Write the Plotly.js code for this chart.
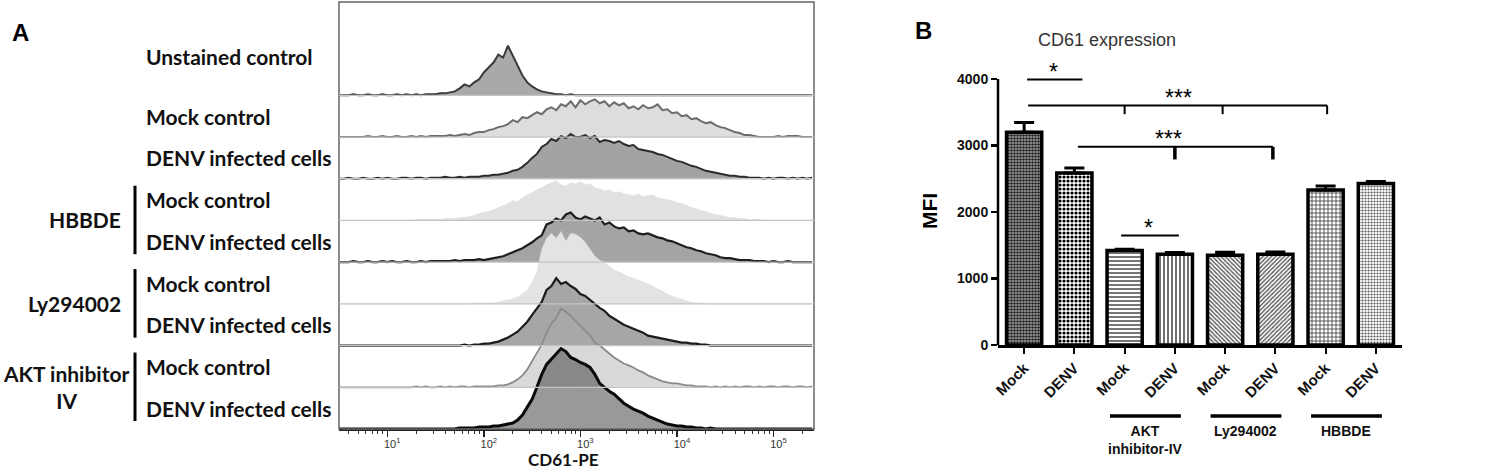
<!DOCTYPE html>
<html>
<head>
<meta charset="utf-8">
<script src="https://cdn.plot.ly/plotly-3.0.1.min.js"></script>
<style>
  html, body { margin: 0; padding: 0; background: #fff; }
  #chart { width: 1502px; height: 470px; }
</style>
</head>
<body>
<div id="chart"></div>
<script>
// ---- panel A : CD61-PE histograms (log10 bin centres, counts) ----
const bins = [
  0.50,0.55,0.60,0.65,0.70,0.75,0.80,0.85,0.90,0.95,
  1.00,1.05,1.10,1.15,1.20,1.25,1.30,1.35,1.40,1.45,
  1.50,1.55,1.60,1.65,1.70,1.75,1.80,1.85,1.90,1.95,
  2.00,2.05,2.10,2.15,2.20,2.25,2.30,2.35,2.40,2.45,
  2.50,2.55,2.60,2.65,2.70,2.75,2.80,2.85,2.90,2.95,
  3.00,3.05,3.10,3.15,3.20,3.25,3.30,3.35,3.40,3.45,
  3.50,3.55,3.60,3.65,3.70,3.75,3.80,3.85,3.90,3.95,
  4.00,4.05,4.10,4.15,4.20,4.25,4.30,4.35,4.40,4.45,
  4.50,4.55,4.60,4.65,4.70,4.75,4.80,4.85,4.90,4.95,
  5.00,5.05,5.10,5.15,5.20,5.25,5.30,5.35,5.40
];

const unstained = [
  0,0,0,1,0,0,1,0,0,1,
  0,0,1,0,1,0,1,0,1,1,
  1,2,2,3,4,7,11,9,13,16,
  23,28,33,41,38,50,40,30,20,13,
  9,6,4,3,2,1,1,0,1,0,
  0,0,0,0,0,0,0,0,0,0,
  0,0,0,0,0,0,0,0,0,0,
  0,0,0,0,0,0,0,0,0,0,
  0,0,0,0,0,0,0,0,0,0,
  0,0,0,0,0,0,0,0,0
];
const mockCtrl = [
  0,0,0,0,0,0,1,0,0,1,
  0,0,1,0,0,1,0,1,0,1,
  1,1,1,2,1,2,3,2,4,5,
  5,7,8,10,11,13,17,15,20,19,
  22,25,23,28,30,27,33,31,36,30,
  37,33,36,38,34,36,31,35,32,34,
  29,31,28,32,29,30,33,27,28,24,
  25,21,22,18,19,16,14,15,12,10,
  9,7,5,4,2,2,1,0,0,0,
  0,1,0,1,1,1,0,0,0
];
const denvCtrl = [
  0,0,1,0,0,1,0,0,1,0,
  1,0,0,1,1,0,1,1,0,1,
  1,1,2,1,1,2,1,2,2,2,
  3,3,4,4,5,6,8,9,12,16,
  21,25,32,35,40,38,43,41,45,42,
  42,44,41,43,37,39,38,36,38,35,
  33,34,30,29,28,27,25,24,22,20,
  18,17,15,13,12,10,8,7,6,5,
  4,3,3,2,2,1,1,1,0,1,
  0,1,1,0,1,0,1,0,1
];
const hbbdeMock = [
  0,0,0,0,0,0,0,0,0,0,
  0,0,0,0,0,0,1,1,1,1,
  1,1,2,2,2,3,3,4,5,7,
  8,9,11,13,15,17,20,19,23,26,
  28,31,33,36,38,40,36,35,38,37,
  39,36,37,33,32,30,31,28,29,27,
  26,25,27,24,25,26,23,22,21,20,
  18,17,15,13,12,10,9,7,6,5,
  4,3,3,2,2,1,1,1,0,0,
  0,0,0,0,0,0,0,0,0
];
const hbbdeDenv = [
  0,0,0,1,0,0,1,0,0,1,
  0,1,0,0,1,0,0,1,0,1,
  1,1,1,1,2,1,2,2,2,3,
  2,3,4,5,6,8,10,12,14,17,
  20,24,27,38,40,44,42,48,50,45,
  43,46,44,42,45,38,40,36,34,35,
  31,32,29,28,29,27,25,24,22,21,
  19,17,15,14,12,11,9,8,7,5,
  4,4,3,2,2,2,1,1,1,0,
  1,0,0,1,0,0,0,0,0
];
const lyMock = [
  0,0,0,0,0,0,0,0,0,0,
  0,0,0,0,0,0,0,0,0,0,
  0,0,0,0,0,0,0,0,1,1,
  1,1,1,2,3,4,5,7,10,14,
  22,32,55,66,71,66,73,63,71,70,
  67,62,55,48,44,42,38,34,32,30,
  27,26,24,22,20,18,15,13,10,8,
  6,5,3,2,1,1,0,0,0,0,
  0,0,0,0,0,0,0,0,0,0,
  0,0,0,0,0,0,0,0,0
];
const lyDenv = [
  0,0,0,0,0,0,0,0,0,0,
  0,0,0,0,0,0,0,0,0,0,
  0,0,0,0,0,0,1,0,1,1,
  2,2,3,4,6,8,11,14,19,24,
  31,38,44,56,60,68,62,64,60,57,
  52,50,46,42,38,35,30,27,24,21,
  19,17,15,13,10,9,8,7,6,5,
  4,3,3,2,2,1,1,0,0,0,
  0,0,0,0,0,0,0,0,0,0,
  0,0,0,0,0,0,0,0,0
];
const aktMock = [
  0,0,0,0,0,0,0,0,0,0,
  0,0,0,0,0,0,1,0,1,0,
  0,1,0,1,0,1,1,0,1,1,
  1,1,1,2,2,3,5,8,12,18,
  26,34,43,55,64,70,79,76,72,67,
  62,56,52,45,42,38,34,30,27,24,
  22,20,17,15,12,10,8,6,5,4,
  4,3,2,2,1,1,1,0,1,0,
  1,0,1,0,1,1,0,1,0,1,
  1,0,1,1,0,1,1,0,1
];
const aktDenv = [
  0,0,0,0,0,0,0,0,0,0,
  0,0,0,0,0,0,0,0,0,0,
  0,0,0,0,0,1,1,1,1,2,
  2,2,3,3,4,5,6,9,14,22,
  30,42,55,65,70,76,81,78,72,70,
  67,65,62,55,46,42,38,35,30,26,
  23,20,18,16,13,11,9,7,5,4,
  3,3,2,2,1,1,0,1,0,0,
  0,0,0,0,0,0,0,0,0,0,
  0,0,0,0,0,0,0,0,0
];

const rowSeries = [unstained, mockCtrl, denvCtrl, hbbdeMock, hbbdeDenv, lyMock, lyDenv, aktMock, aktDenv];
const rowLabels = ['Unstained control', 'Mock control', 'DENV infected cells',
  'Mock control', 'DENV infected cells', 'Mock control', 'DENV infected cells',
  'Mock control', 'DENV infected cells'];
const rowGroups = [
  { name: 'HBBDE', rows: [3, 4] },
  { name: 'Ly294002', rows: [5, 6] },
  { name: 'AKT inhibitor<br>IV', rows: [7, 8] }
];
const decadeTicks = [10, 100, 1000, 10000, 100000];
const decadeText = ['10<sup>1</sup>', '10<sup>2</sup>', '10<sup>3</sup>', '10<sup>4</sup>', '10<sup>5</sup>'];

// ---- panel B : CD61 MFI bars ----
const barLabels = ['Mock', 'DENV', 'Mock', 'DENV', 'Mock', 'DENV', 'Mock', 'DENV'];
const barMeans = [3200, 2585, 1420, 1365, 1350, 1365, 2330, 2430];
const barErr = [145, 75, 20, 25, 45, 35, 60, 30];
const barGroups = [
  { name: 'AKT<br>inhibitor-IV', from: 2, to: 3 },
  { name: 'Ly294002', from: 4, to: 5 },
  { name: 'HBBDE', from: 6, to: 7 }
];
const sigBars = [
  { x0: 0.06, x1: 1.16, y: 3990, drops: [], dropTo: 0, label: '*', lx: 0.58 },
  { x0: 0.08, x1: 6.03, y: 3600, drops: [2.0, 3.95, 6.03], dropTo: 3470, label: '***', lx: 3.08 },
  { x0: 1.07, x1: 4.95, y: 2980, drops: [3.0, 4.95], dropTo: 2790, label: '***', lx: 2.87 },
  { x0: 1.93, x1: 3.08, y: 1645, drops: [], dropTo: 0, label: '*', lx: 2.48 }
];

// ---- styles ----
const W = 1502, H = 470;
const fx = p => p / W;
const fy = p => 1 - p / H;
const rowGap = 42;
const nRows = rowSeries.length;
const offsetOf = i => (nRows - 1 - i) * rowGap;

const rowStyle = [
  { fill: '#a9a9a9', line: '#3a3a3a', w: 2 },
  { fill: '#dddddd', line: '#6c6c6c', w: 2 },
  { fill: '#a3a3a3', line: '#2c2c2c', w: 2 },
  { fill: '#e1e1e1', line: '#dedede', w: 0.5 },
  { fill: '#a4a4a4', line: '#1e1e1e', w: 2.2 },
  { fill: '#e3e3e3', line: '#dfdfdf', w: 0.5 },
  { fill: '#a6a6a6', line: '#1c1c1c', w: 2.2 },
  { fill: 'rgba(170,170,170,0.45)', line: '#8a8a8a', w: 1.8 },
  { fill: 'rgba(70,70,70,0.55)', line: '#0a0a0a', w: 3 }
];

const barPattern = {
  shape:    ['.', '.', '-', '|', '\\', '/', '+', '.'],
  fgcolor:  ['#222', '#000', '#555', '#333', '#555', '#555', '#333', '#555'],
  bgcolor:  ['#b0b0b0', '#fff', '#fff', '#fff', '#fff', '#fff', '#fff', '#fff'],
  size:     [3, 4, 4, 4, 3, 3, 4, 3],
  solidity: [0.6, 0.5, 0.4, 0.35, 0.45, 0.45, 0.35, 0.4]
};

const xs = bins.map(b => Math.pow(10, b));
const traces = rowSeries.map((vals, i) => ({
  type: 'scatter',
  mode: 'lines',
  x: xs,
  y: vals.map(v => offsetOf(i) + v),
  xaxis: 'x', yaxis: 'y',
  fill: 'toself',
  fillcolor: rowStyle[i].fill,
  line: { color: rowStyle[i].line, width: rowStyle[i].w },
  hoverinfo: 'skip',
  showlegend: false
}));

traces.push({
  type: 'bar',
  x: barLabels.map((_, i) => i),
  y: barMeans,
  xaxis: 'x2', yaxis: 'y2',
  width: 0.7,
  marker: {
    color: '#fff',
    line: { color: '#000', width: 3.5 },
    pattern: barPattern
  },
  error_y: {
    type: 'data', symmetric: false,
    array: barErr, arrayminus: barErr.map(() => 0),
    color: '#000', thickness: 3, width: 10
  },
  showlegend: false
});

// minor ticks for the log axis
const minorTicks = [];
for (let d = 0; d <= 5; d++) {
  for (let m = 2; m <= 9; m++) {
    const v = m * Math.pow(10, d);
    if (v > 3.2 && v < 262000) minorTicks.push(v);
  }
}

const shapes = [];
const annotations = [];

// panel A frame + baselines
shapes.push({ type: 'rect', xref: 'x domain', yref: 'y domain', x0: 0, x1: 1, y0: 0, y1: 1,
  line: { color: '#666', width: 1.5 } });
for (let i = 0; i < nRows - 1; i++) {
  shapes.push({ type: 'line', xref: 'x domain', yref: 'y', x0: 0, x1: 1,
    y0: offsetOf(i), y1: offsetOf(i), line: { color: '#c4c4c4', width: 1.3 }, layer: 'above' });
}

const labelFont = { family: 'Lato, "Open Sans", sans-serif', size: 21, color: '#111', weight: 'bold' };
rowLabels.forEach((t, i) => {
  annotations.push({ xref: 'paper', yref: 'y', x: fx(144), y: offsetOf(i) + (i === 0 ? 39 : 21),
    xanchor: 'left', yanchor: 'middle', text: t, showarrow: false, font: labelFont });
});
rowGroups.forEach(g => {
  const y0 = offsetOf(g.rows[1]) + 8;
  const y1 = offsetOf(g.rows[0]) + 35;
  shapes.push({ type: 'line', xref: 'paper', yref: 'y', x0: fx(135), x1: fx(135), y0: y0, y1: y1,
    line: { color: '#000', width: 3 } });
  annotations.push({ xref: 'paper', yref: 'y', x: fx(g.rows[0] === 7 ? 131 : 123), y: (y0 + y1) / 2,
    xanchor: 'right', yanchor: 'middle', align: 'center', text: g.name, showarrow: false, font: labelFont });
});
annotations.push({ xref: 'paper', yref: 'paper', x: fx(563), y: fy(459), yanchor: 'middle', text: 'CD61-PE',
  showarrow: false, font: { family: 'Lato, sans-serif', size: 17, color: '#111', weight: 'bold' } });

// panel letters
annotations.push({ xref: 'paper', yref: 'paper', x: fx(10), y: fy(17), xanchor: 'left', text: 'A',
  showarrow: false, font: { family: 'Arial, "Liberation Sans"', size: 24, color: '#000', weight: 'bold' } });
annotations.push({ xref: 'paper', yref: 'paper', x: fx(913), y: fy(15), xanchor: 'left', text: 'B',
  showarrow: false, font: { family: 'Arial, "Liberation Sans"', size: 24, color: '#000', weight: 'bold' } });

// panel B decorations
const arial = 'Arial, "Liberation Sans", sans-serif';
annotations.push({ xref: 'paper', yref: 'paper', x: fx(1178), y: fy(28), text: 'CD61 expression',
  showarrow: false, font: { family: arial, size: 18, color: '#333' } });
annotations.push({ xref: 'paper', yref: 'paper', x: fx(930), y: fy(211), text: 'MFI', textangle: -90,
  showarrow: false, font: { family: arial, size: 21, color: '#000', weight: 'bold' } });
shapes.push({ type: 'line', xref: 'x2 domain', yref: 'y2', x0: 0, x1: 0, y0: 0, y1: 4000,
  line: { color: '#000', width: 2.5 } });

sigBars.forEach(s => {
  shapes.push({ type: 'line', xref: 'x2', yref: 'y2', x0: s.x0, x1: s.x1, y0: s.y, y1: s.y,
    line: { color: '#000', width: 2 } });
  s.drops.forEach(d => {
    shapes.push({ type: 'line', xref: 'x2', yref: 'y2', x0: d, x1: d, y0: s.y, y1: s.dropTo,
      line: { color: '#000', width: s.y < 3200 ? 3.5 : 2 } });
  });
  annotations.push({ xref: 'x2', yref: 'y2', x: s.lx, y: s.y, yanchor: 'bottom', yshift: -7,
    text: s.label, showarrow: false, font: { family: arial, size: 23, color: '#000' } });
});

barGroups.forEach(g => {
  const x0 = g.from - 0.29, x1 = g.to + 0.12;
  shapes.push({ type: 'line', xref: 'x2', yref: 'paper', x0: x0, x1: x1, y0: fy(416), y1: fy(416),
    line: { color: '#000', width: 3.5 } });
  annotations.push({ xref: 'x2', yref: 'paper', x: (x0 + x1) / 2, y: fy(421), yanchor: 'top',
    text: g.name, showarrow: false, align: 'center',
    font: { family: arial, size: 14, color: '#111', weight: 'bold' } });
});

const layout = {
  width: W, height: H,
  margin: { l: 0, r: 0, t: 0, b: 0 },
  paper_bgcolor: '#fff', plot_bgcolor: 'rgba(0,0,0,0)',
  showlegend: false,
  xaxis: {
    domain: [fx(339), fx(814)], anchor: 'y', type: 'log', range: [0.5, 5.42],
    tickvals: decadeTicks, ticktext: decadeText, ticks: 'outside', ticklen: 6, tickwidth: 1.5,
    tickcolor: '#222', ticklabelshift: 5, ticklabelstandoff: -2,
    minor: { tickvals: minorTicks, ticks: 'outside', ticklen: 3, tickwidth: 1, tickcolor: '#333' },
    showline: true, linecolor: '#222', linewidth: 1.5, showgrid: false, zeroline: false,
    tickfont: { family: arial, size: 11, color: '#333' }
  },
  yaxis: {
    domain: [fy(429), fy(2)], anchor: 'x', range: [0, 430], visible: false, fixedrange: true
  },
  xaxis2: {
    domain: [fx(998), fx(1402)], anchor: 'y2', range: [-0.52, 7.52],
    tickvals: barLabels.map((_, i) => i), ticktext: barLabels, tickangle: -45,
    ticks: 'outside', ticklen: 6, tickwidth: 2, tickcolor: '#000',
    showline: true, linecolor: '#000', linewidth: 2.5, showgrid: false, zeroline: false,
    tickfont: { family: arial, size: 15, color: '#111', weight: 'bold' }
  },
  yaxis2: {
    domain: [fy(345), fy(59)], anchor: 'x2', range: [0, 4300],
    tickvals: [0, 1000, 2000, 3000, 4000], ticks: 'outside', ticklen: 6, tickwidth: 2.5, tickcolor: '#000',
    showline: false, showgrid: false, zeroline: false,
    tickfont: { family: arial, size: 14, color: '#111', weight: 'bold' }
  },
  shapes: shapes,
  annotations: annotations
};

Plotly.newPlot('chart', traces, layout, { staticPlot: true });
</script>
</body>
</html>
